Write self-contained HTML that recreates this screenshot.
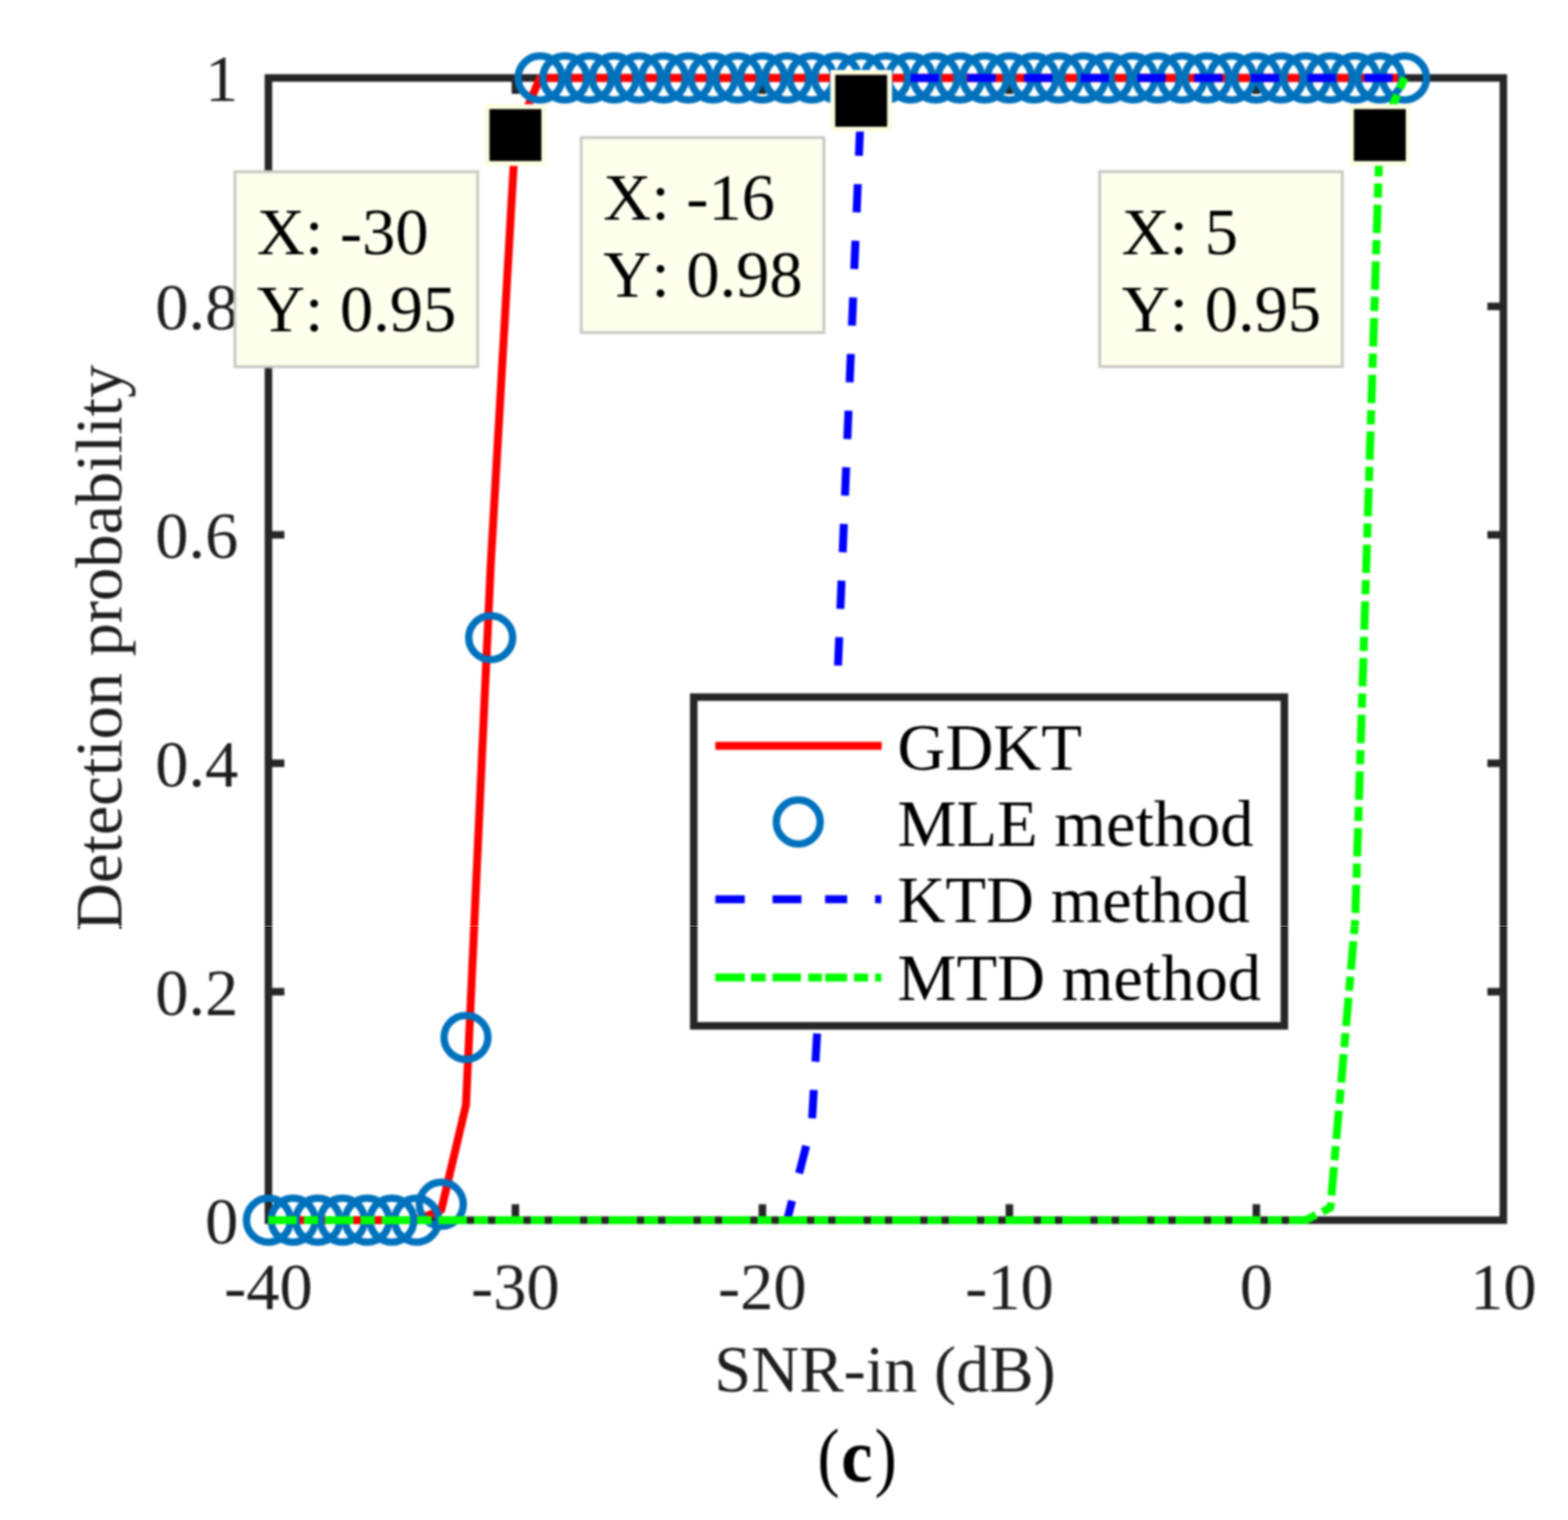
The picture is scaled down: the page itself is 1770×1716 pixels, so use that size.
<!DOCTYPE html>
<html><head><meta charset="utf-8"><style>html,body{margin:0;padding:0;background:#fff;overflow:hidden}svg{display:block}#w{filter:blur(1px)}text{font-kerning:none;font-feature-settings:'kern' 0}</style></head>
<body>
<div id="w"><svg width="1770" height="1716" viewBox="0 0 1770 1716">
<rect width="1770" height="1716" fill="#fff"/>
<rect x="303.0" y="88.0" width="1394.0" height="1289.5" fill="none" stroke="#262626" stroke-width="8.5" stroke-linejoin="miter"/>
<line x1="303.0" y1="1119.60" x2="321.0" y2="1119.60" stroke="#262626" stroke-width="8.5"/>
<line x1="1697.0" y1="1119.60" x2="1679.0" y2="1119.60" stroke="#262626" stroke-width="8.5"/>
<line x1="303.0" y1="861.70" x2="321.0" y2="861.70" stroke="#262626" stroke-width="8.5"/>
<line x1="1697.0" y1="861.70" x2="1679.0" y2="861.70" stroke="#262626" stroke-width="8.5"/>
<line x1="303.0" y1="603.80" x2="321.0" y2="603.80" stroke="#262626" stroke-width="8.5"/>
<line x1="1697.0" y1="603.80" x2="1679.0" y2="603.80" stroke="#262626" stroke-width="8.5"/>
<line x1="303.0" y1="345.90" x2="321.0" y2="345.90" stroke="#262626" stroke-width="8.5"/>
<line x1="1697.0" y1="345.90" x2="1679.0" y2="345.90" stroke="#262626" stroke-width="8.5"/>
<line x1="581.80" y1="1377.5" x2="581.80" y2="1359.5" stroke="#262626" stroke-width="8.5"/>
<line x1="581.80" y1="88.0" x2="581.80" y2="106.0" stroke="#262626" stroke-width="8.5"/>
<line x1="860.60" y1="1377.5" x2="860.60" y2="1359.5" stroke="#262626" stroke-width="8.5"/>
<line x1="860.60" y1="88.0" x2="860.60" y2="106.0" stroke="#262626" stroke-width="8.5"/>
<line x1="1139.40" y1="1377.5" x2="1139.40" y2="1359.5" stroke="#262626" stroke-width="8.5"/>
<line x1="1139.40" y1="88.0" x2="1139.40" y2="106.0" stroke="#262626" stroke-width="8.5"/>
<line x1="1418.20" y1="1377.5" x2="1418.20" y2="1359.5" stroke="#262626" stroke-width="8.5"/>
<line x1="1418.20" y1="88.0" x2="1418.20" y2="106.0" stroke="#262626" stroke-width="8.5"/>
<polyline points="303.00,1377.50 330.88,1377.50 358.76,1377.50 386.64,1377.50 414.52,1377.50 442.40,1377.50 470.28,1377.50 498.16,1365.89 526.04,1247.26 553.92,638.62 581.80,152.48 609.68,88.00 637.56,88.00 665.44,88.00 693.32,88.00 721.20,88.00 749.08,88.00 776.96,88.00 804.84,88.00 832.72,88.00 860.60,88.00 888.48,88.00 916.36,88.00 944.24,88.00 972.12,88.00 1000.00,88.00 1027.88,88.00 1055.76,88.00 1083.64,88.00 1111.52,88.00 1139.40,88.00 1167.28,88.00 1195.16,88.00 1223.04,88.00 1250.92,88.00 1278.80,88.00 1306.68,88.00 1334.56,88.00 1362.44,88.00 1390.32,88.00 1418.20,88.00 1446.08,88.00 1473.96,88.00 1501.84,88.00 1529.72,88.00 1557.60,88.00 1585.48,88.00" fill="none" stroke="#f00" stroke-width="9.0" stroke-linejoin="round"/>
<circle cx="303.00" cy="1377.50" r="24.8" fill="none" stroke="#0072BD" stroke-width="8.3"/>
<circle cx="330.88" cy="1377.50" r="24.8" fill="none" stroke="#0072BD" stroke-width="8.3"/>
<circle cx="358.76" cy="1377.50" r="24.8" fill="none" stroke="#0072BD" stroke-width="8.3"/>
<circle cx="386.64" cy="1377.50" r="24.8" fill="none" stroke="#0072BD" stroke-width="8.3"/>
<circle cx="414.52" cy="1377.50" r="24.8" fill="none" stroke="#0072BD" stroke-width="8.3"/>
<circle cx="442.40" cy="1377.50" r="24.8" fill="none" stroke="#0072BD" stroke-width="8.3"/>
<circle cx="470.28" cy="1377.50" r="24.8" fill="none" stroke="#0072BD" stroke-width="8.3"/>
<circle cx="498.16" cy="1359.45" r="24.8" fill="none" stroke="#0072BD" stroke-width="8.3"/>
<circle cx="526.04" cy="1171.18" r="24.8" fill="none" stroke="#0072BD" stroke-width="8.3"/>
<circle cx="553.92" cy="719.86" r="24.8" fill="none" stroke="#0072BD" stroke-width="8.3"/>
<circle cx="581.80" cy="152.48" r="24.8" fill="none" stroke="#0072BD" stroke-width="8.3"/>
<circle cx="609.68" cy="88.00" r="24.8" fill="none" stroke="#0072BD" stroke-width="8.3"/>
<circle cx="637.56" cy="88.00" r="24.8" fill="none" stroke="#0072BD" stroke-width="8.3"/>
<circle cx="665.44" cy="88.00" r="24.8" fill="none" stroke="#0072BD" stroke-width="8.3"/>
<circle cx="693.32" cy="88.00" r="24.8" fill="none" stroke="#0072BD" stroke-width="8.3"/>
<circle cx="721.20" cy="88.00" r="24.8" fill="none" stroke="#0072BD" stroke-width="8.3"/>
<circle cx="749.08" cy="88.00" r="24.8" fill="none" stroke="#0072BD" stroke-width="8.3"/>
<circle cx="776.96" cy="88.00" r="24.8" fill="none" stroke="#0072BD" stroke-width="8.3"/>
<circle cx="804.84" cy="88.00" r="24.8" fill="none" stroke="#0072BD" stroke-width="8.3"/>
<circle cx="832.72" cy="88.00" r="24.8" fill="none" stroke="#0072BD" stroke-width="8.3"/>
<circle cx="860.60" cy="88.00" r="24.8" fill="none" stroke="#0072BD" stroke-width="8.3"/>
<circle cx="888.48" cy="88.00" r="24.8" fill="none" stroke="#0072BD" stroke-width="8.3"/>
<circle cx="916.36" cy="88.00" r="24.8" fill="none" stroke="#0072BD" stroke-width="8.3"/>
<circle cx="944.24" cy="88.00" r="24.8" fill="none" stroke="#0072BD" stroke-width="8.3"/>
<circle cx="972.12" cy="88.00" r="24.8" fill="none" stroke="#0072BD" stroke-width="8.3"/>
<circle cx="1000.00" cy="88.00" r="24.8" fill="none" stroke="#0072BD" stroke-width="8.3"/>
<circle cx="1027.88" cy="88.00" r="24.8" fill="none" stroke="#0072BD" stroke-width="8.3"/>
<circle cx="1055.76" cy="88.00" r="24.8" fill="none" stroke="#0072BD" stroke-width="8.3"/>
<circle cx="1083.64" cy="88.00" r="24.8" fill="none" stroke="#0072BD" stroke-width="8.3"/>
<circle cx="1111.52" cy="88.00" r="24.8" fill="none" stroke="#0072BD" stroke-width="8.3"/>
<circle cx="1139.40" cy="88.00" r="24.8" fill="none" stroke="#0072BD" stroke-width="8.3"/>
<circle cx="1167.28" cy="88.00" r="24.8" fill="none" stroke="#0072BD" stroke-width="8.3"/>
<circle cx="1195.16" cy="88.00" r="24.8" fill="none" stroke="#0072BD" stroke-width="8.3"/>
<circle cx="1223.04" cy="88.00" r="24.8" fill="none" stroke="#0072BD" stroke-width="8.3"/>
<circle cx="1250.92" cy="88.00" r="24.8" fill="none" stroke="#0072BD" stroke-width="8.3"/>
<circle cx="1278.80" cy="88.00" r="24.8" fill="none" stroke="#0072BD" stroke-width="8.3"/>
<circle cx="1306.68" cy="88.00" r="24.8" fill="none" stroke="#0072BD" stroke-width="8.3"/>
<circle cx="1334.56" cy="88.00" r="24.8" fill="none" stroke="#0072BD" stroke-width="8.3"/>
<circle cx="1362.44" cy="88.00" r="24.8" fill="none" stroke="#0072BD" stroke-width="8.3"/>
<circle cx="1390.32" cy="88.00" r="24.8" fill="none" stroke="#0072BD" stroke-width="8.3"/>
<circle cx="1418.20" cy="88.00" r="24.8" fill="none" stroke="#0072BD" stroke-width="8.3"/>
<circle cx="1446.08" cy="88.00" r="24.8" fill="none" stroke="#0072BD" stroke-width="8.3"/>
<circle cx="1473.96" cy="88.00" r="24.8" fill="none" stroke="#0072BD" stroke-width="8.3"/>
<circle cx="1501.84" cy="88.00" r="24.8" fill="none" stroke="#0072BD" stroke-width="8.3"/>
<circle cx="1529.72" cy="88.00" r="24.8" fill="none" stroke="#0072BD" stroke-width="8.3"/>
<circle cx="1557.60" cy="88.00" r="24.8" fill="none" stroke="#0072BD" stroke-width="8.3"/>
<circle cx="1585.48" cy="88.00" r="24.8" fill="none" stroke="#0072BD" stroke-width="8.3"/>
<polyline points="303.00,1377.50 330.88,1377.50 358.76,1377.50 386.64,1377.50 414.52,1377.50 442.40,1377.50 470.28,1377.50 498.16,1377.50 526.04,1377.50 553.92,1377.50 581.80,1377.50 609.68,1377.50 637.56,1377.50 665.44,1377.50 693.32,1377.50 721.20,1377.50 749.08,1377.50 776.96,1377.50 804.84,1377.50 832.72,1377.50 860.60,1377.50 888.48,1377.50 916.36,1269.18 944.24,794.65 972.12,113.79 1000.00,88.00 1027.88,88.00 1055.76,88.00 1083.64,88.00 1111.52,88.00 1139.40,88.00 1167.28,88.00 1195.16,88.00 1223.04,88.00 1250.92,88.00 1278.80,88.00 1306.68,88.00 1334.56,88.00 1362.44,88.00 1390.32,88.00 1418.20,88.00 1446.08,88.00 1473.96,88.00 1501.84,88.00 1529.72,88.00 1557.60,88.00 1585.48,88.00" fill="none" stroke="#00f" stroke-width="9.0" stroke-linejoin="round" stroke-dasharray="32 32"/>
<polyline points="303.00,1377.50 330.88,1377.50 358.76,1377.50 386.64,1377.50 414.52,1377.50 442.40,1377.50 470.28,1377.50 498.16,1377.50 526.04,1377.50 553.92,1377.50 581.80,1377.50 609.68,1377.50 637.56,1377.50 665.44,1377.50 693.32,1377.50 721.20,1377.50 749.08,1377.50 776.96,1377.50 804.84,1377.50 832.72,1377.50 860.60,1377.50 888.48,1377.50 916.36,1377.50 944.24,1377.50 972.12,1377.50 1000.00,1377.50 1027.88,1377.50 1055.76,1377.50 1083.64,1377.50 1111.52,1377.50 1139.40,1377.50 1167.28,1377.50 1195.16,1377.50 1223.04,1377.50 1250.92,1377.50 1278.80,1377.50 1306.68,1377.50 1334.56,1377.50 1362.44,1377.50 1390.32,1377.50 1418.20,1377.50 1446.08,1377.50 1473.96,1377.50 1501.84,1363.32 1529.72,1039.65 1557.60,152.48 1585.48,88.00" fill="none" stroke="#0f0" stroke-width="9.0" stroke-linejoin="round" stroke-dasharray="32 8 16 8"/>
<text x="269" y="1403.5" text-anchor="end" font-size="75" font-family="Liberation Serif, serif" fill="#1e1e1e">0</text>
<text x="269" y="1145.6" text-anchor="end" font-size="75" font-family="Liberation Serif, serif" fill="#1e1e1e">0.2</text>
<text x="269" y="887.7" text-anchor="end" font-size="75" font-family="Liberation Serif, serif" fill="#1e1e1e">0.4</text>
<text x="269" y="629.8" text-anchor="end" font-size="75" font-family="Liberation Serif, serif" fill="#1e1e1e">0.6</text>
<text x="269" y="371.9" text-anchor="end" font-size="75" font-family="Liberation Serif, serif" fill="#1e1e1e">0.8</text>
<text x="269" y="114.0" text-anchor="end" font-size="75" font-family="Liberation Serif, serif" fill="#1e1e1e">1</text>
<text x="303.0" y="1478" text-anchor="middle" font-size="75" font-family="Liberation Serif, serif" fill="#1e1e1e">-40</text>
<text x="581.8" y="1478" text-anchor="middle" font-size="75" font-family="Liberation Serif, serif" fill="#1e1e1e">-30</text>
<text x="860.6" y="1478" text-anchor="middle" font-size="75" font-family="Liberation Serif, serif" fill="#1e1e1e">-20</text>
<text x="1139.4" y="1478" text-anchor="middle" font-size="75" font-family="Liberation Serif, serif" fill="#1e1e1e">-10</text>
<text x="1418.2" y="1478" text-anchor="middle" font-size="75" font-family="Liberation Serif, serif" fill="#1e1e1e">0</text>
<text x="1697.0" y="1478" text-anchor="middle" font-size="75" font-family="Liberation Serif, serif" fill="#1e1e1e">10</text>
<text x="999" y="1571" text-anchor="middle" font-size="75" font-family="Liberation Serif, serif" fill="#1e1e1e">SNR-in (dB)</text>
<text transform="translate(137,731.5) rotate(-90)" text-anchor="middle" font-size="75" font-family="Liberation Serif, serif" fill="#1e1e1e">Detection probability</text>
<text transform="translate(922.8,1672.8) scale(0.87,1)" font-size="86.5" font-family="Liberation Serif, serif" fill="#000">(</text>
<text transform="translate(949.6,1672) scale(0.94,1)" font-size="85" font-weight="bold" font-family="Liberation Serif, serif" fill="#000">c</text>
<text transform="translate(987.2,1672.8) scale(0.87,1)" font-size="86.5" font-family="Liberation Serif, serif" fill="#000">)</text>
<rect x="265.20000000000005" y="193.9" width="274" height="220.1" fill="#FFFFEE" stroke="#C9C9C6" stroke-width="3.3"/>
<text x="290.1" y="286.8" font-size="75" font-family="Liberation Serif, serif" fill="#000">X: -30</text>
<text x="290.1" y="373.8" font-size="75" font-family="Liberation Serif, serif" fill="#000">Y: 0.95</text>
<rect x="547.0" y="117.67500000000014" width="69.6" height="69.6" fill="#FDFDE2"/>
<rect x="552.5" y="123.17500000000014" width="58.6" height="58.6" fill="#000"/>
<rect x="656.1" y="155.29999999999998" width="274" height="220.1" fill="#FFFFEE" stroke="#C9C9C6" stroke-width="3.3"/>
<text x="681" y="248.2" font-size="75" font-family="Liberation Serif, serif" fill="#000">X: -16</text>
<text x="681" y="335.2" font-size="75" font-family="Liberation Serif, serif" fill="#000">Y: 0.98</text>
<rect x="937.32" y="78.98999999999997" width="69.6" height="69.6" fill="#FDFDE2"/>
<rect x="942.82" y="84.48999999999997" width="58.6" height="58.6" fill="#000"/>
<rect x="1241.3" y="193.79999999999998" width="274" height="220.1" fill="#FFFFEE" stroke="#C9C9C6" stroke-width="3.3"/>
<text x="1266.2" y="286.7" font-size="75" font-family="Liberation Serif, serif" fill="#000">X: 5</text>
<text x="1266.2" y="373.7" font-size="75" font-family="Liberation Serif, serif" fill="#000">Y: 0.95</text>
<rect x="1522.8" y="117.67500000000014" width="69.6" height="69.6" fill="#FDFDE2"/>
<rect x="1528.3" y="123.17500000000014" width="58.6" height="58.6" fill="#000"/>
<rect x="783.1" y="787.0" width="666.6999999999999" height="371.0999999999999" fill="#fff" stroke="#262626" stroke-width="8.5"/>
<line x1="807.5" y1="842" x2="995.3" y2="842" stroke="#f00" stroke-width="9.0"/>
<circle cx="901.1" cy="928" r="24.8" fill="none" stroke="#0072BD" stroke-width="8.3"/>
<line x1="807.5" y1="1015.2" x2="840.7" y2="1015.2" stroke="#00f" stroke-width="9.0"/>
<line x1="872.1" y1="1015.2" x2="904.7" y2="1015.2" stroke="#00f" stroke-width="9.0"/>
<line x1="931.4" y1="1015.2" x2="956.3" y2="1015.2" stroke="#00f" stroke-width="9.0"/>
<line x1="987.8" y1="1015.2" x2="994.9" y2="1015.2" stroke="#00f" stroke-width="9.0"/>
<line x1="807.5" y1="1103.6" x2="840.7" y2="1103.6" stroke="#0f0" stroke-width="9.0"/>
<line x1="847.8" y1="1103.6" x2="864.4" y2="1103.6" stroke="#0f0" stroke-width="9.0"/>
<line x1="872.1" y1="1103.6" x2="904.1" y2="1103.6" stroke="#0f0" stroke-width="9.0"/>
<line x1="912.4" y1="1103.6" x2="927.9" y2="1103.6" stroke="#0f0" stroke-width="9.0"/>
<line x1="931.4" y1="1103.6" x2="956.3" y2="1103.6" stroke="#0f0" stroke-width="9.0"/>
<line x1="964" y1="1103.6" x2="980" y2="1103.6" stroke="#0f0" stroke-width="9.0"/>
<line x1="987.8" y1="1103.6" x2="994.9" y2="1103.6" stroke="#0f0" stroke-width="9.0"/>
<text x="1013" y="869.4" font-size="75" font-family="Liberation Serif, serif" fill="#000">GDKT</text>
<text x="1013" y="955.2" font-size="75" font-family="Liberation Serif, serif" fill="#000">MLE method</text>
<text x="1013" y="1041" font-size="75" font-family="Liberation Serif, serif" fill="#000">KTD method</text>
<text x="1013" y="1128.7" font-size="75" font-family="Liberation Serif, serif" fill="#000">MTD method</text>
</svg></div>
<div style="position:absolute;left:0;top:1045px;width:1770px;height:1px;background:rgba(255,255,255,0.33)"></div>
</body></html>
